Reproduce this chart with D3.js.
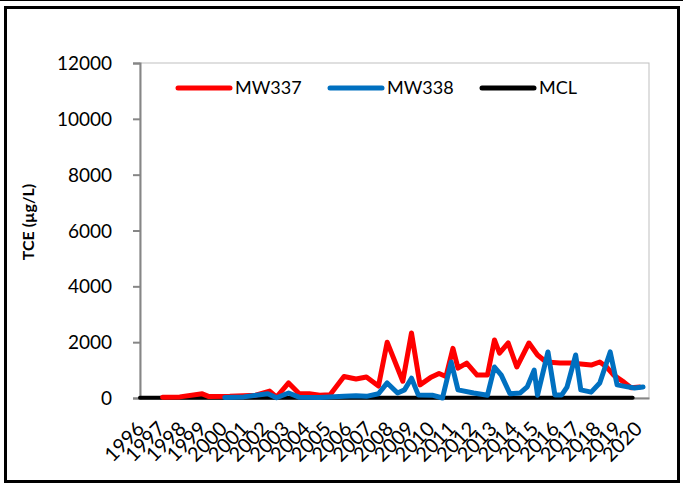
<!DOCTYPE html>
<html>
<head>
<meta charset="utf-8">
<script src="https://cdn.jsdelivr.net/npm/d3@7"></script>
<style>
  body { margin: 0; background: #fff; }
  text { font-family: Lato, "Liberation Sans", sans-serif; fill: #000; }
</style>
</head>
<body>
<script>
// sample dates and TCE values (ug/L)
var mw337Dates = ["1997-02","1997-12","1999-01","1999-05","2000-05","2001-01","2001-08","2002-04","2002-08","2003-03",
    "2003-09","2004-03","2004-09","2005-03","2005-11","2006-06","2006-12","2007-07","2007-12","2008-09",
    "2009-02","2009-07","2010-01","2010-06","2010-10","2011-02","2011-05","2011-10","2012-04","2012-10",
    "2013-02","2013-05","2013-10","2014-03","2014-10","2015-03","2015-08","2016-04","2016-10","2017-04",
    "2017-10","2018-03","2018-07","2018-11","2019-05","2019-09","2020-02"];
var mw337Values = [30,40,150,50,60,80,100,250,30,540,
    160,150,100,120,770,680,750,430,2000,600,
    2330,470,730,880,770,1780,1070,1250,820,820,
    2080,1610,1970,1110,1970,1540,1290,1250,1250,1220,
    1180,1290,1110,820,570,370,390];

var mw338Dates = ["2000-02","2001-01","2002-03","2002-08","2003-03","2003-09","2004-09","2005-11","2006-06","2006-12",
    "2007-07","2007-12","2008-06","2008-10","2009-02","2009-06","2010-02","2010-08","2011-01","2011-05",
    "2012-02","2012-10","2013-02","2013-06","2013-11","2014-05","2014-09","2015-01","2015-03","2015-09",
    "2016-01","2016-05","2016-08","2017-01","2017-04","2017-10","2018-03","2018-09","2019-01","2019-07",
    "2019-11","2020-04"];
var mw338Values = [20,40,150,10,180,30,20,60,80,60,
    150,540,180,290,710,110,100,0,1290,290,
    180,100,1110,820,150,180,400,1000,100,1650,
    110,110,390,1540,290,210,540,1650,470,400,
    360,390];

var mclDates = ["1996-01","2019-10"];
var mclValues = [5, 5];

var yTicks = [0,2000,4000,6000,8000,10000,12000];
var yearLabels = d3.range(1996, 2021);

var seriesNames = ["MW337","MW338","MCL"];
var seriesColors = ["#ff0000","#0070c0","#000000"];

var width = 683, height = 486;
var plot = { left: 140, right: 649, top: 63, bottom: 398 };

var parse = d3.timeParse("%Y-%m");

var svg = d3.select("body").append("svg")
    .attr("width", width)
    .attr("height", height);

// outer frame
svg.append("line")
    .attr("x1", 0).attr("x2", width).attr("y1", 0.5).attr("y2", 0.5)
    .attr("stroke", "#000").attr("stroke-width", 1);
svg.append("rect")
    .attr("x", 5.5).attr("y", 7.5)
    .attr("width", 673).attr("height", 474)
    .attr("fill", "none").attr("stroke", "#000").attr("stroke-width", 3);

var x = d3.scaleTime()
    .domain([new Date(1996, 0, 1), new Date(2020, 6, 15)])
    .range([plot.left, plot.right]);

var y = d3.scaleLinear()
    .domain([0, 12000])
    .range([plot.bottom, plot.top]);

// plot area border
svg.append("rect")
    .attr("x", plot.left).attr("y", plot.top)
    .attr("width", plot.right - plot.left).attr("height", plot.bottom - plot.top)
    .attr("fill", "none").attr("stroke", "#bfbfbf").attr("stroke-width", 1);

// y axis
var yAxis = svg.append("g")
    .attr("transform", "translate(" + plot.left + ",0)")
    .call(d3.axisLeft(y).tickValues(yTicks).tickSize(7).tickPadding(21).tickFormat(d3.format("d")));
yAxis.select(".domain").attr("stroke", "#868686").attr("stroke-width", 2);
yAxis.selectAll(".tick line").attr("stroke", "#868686").attr("stroke-width", 2);
yAxis.selectAll(".tick text")
    .style("font-size", "19px")
    .style("font-family", "Lato, sans-serif")
    .attr("dy", "0.35em");

// x axis
var xAxis = svg.append("g")
    .attr("transform", "translate(0," + plot.bottom + ")")
    .call(d3.axisBottom(x)
        .tickValues(yearLabels.map(function (d) { return new Date(d, 0, 1); }))
        .tickSize(0)
        .tickFormat(d3.timeFormat("%Y")));
xAxis.select(".domain").attr("stroke", "#868686").attr("stroke-width", 2);
xAxis.selectAll(".tick text")
    .style("font-size", "20px")
    .attr("text-anchor", "end")
    .attr("dy", "0.35em")
    .attr("transform", "translate(-2,25) rotate(-45)");

// lines
var line = d3.line()
    .x(function (d) { return x(d.date); })
    .y(function (d) { return y(d.value); });

function toPoints(dates, values) {
    return dates.map(function (d, i) { return { date: parse(d), value: values[i] }; });
}

var series = [
    toPoints(mw337Dates, mw337Values),
    toPoints(mw338Dates, mw338Values),
    toPoints(mclDates, mclValues)
];

// draw MCL first then red then blue (blue on top)
[2, 0, 1].forEach(function (k) {
    svg.append("path")
        .datum(series[k])
        .attr("fill", "none")
        .attr("stroke", seriesColors[k])
        .attr("stroke-width", k == 2 ? 4 : 5)
        .attr("stroke-linejoin", "round")
        .attr("stroke-linecap", "round")
        .attr("d", line);
});

// legend
var legendX = [178, 330, 482];
var legend = svg.append("g");
seriesNames.forEach(function (name, i) {
    legend.append("line")
        .attr("x1", legendX[i]).attr("x2", legendX[i] + 52)
        .attr("y1", 88).attr("y2", 88)
        .attr("stroke", seriesColors[i])
        .attr("stroke-width", 5)
        .attr("stroke-linecap", "round");
    legend.append("text")
        .attr("x", legendX[i] + 57)
        .attr("y", 88)
        .attr("dy", "0.35em")
        .style("font-size", "18px")
        .text(name);
});

// y axis title
svg.append("text")
    .attr("transform", "translate(34,222) rotate(-90)")
    .attr("text-anchor", "middle")
    .style("font-size", "16px")
    .style("font-weight", "bold")
    .text("TCE (µg/L)");
</script>
</body>
</html>
